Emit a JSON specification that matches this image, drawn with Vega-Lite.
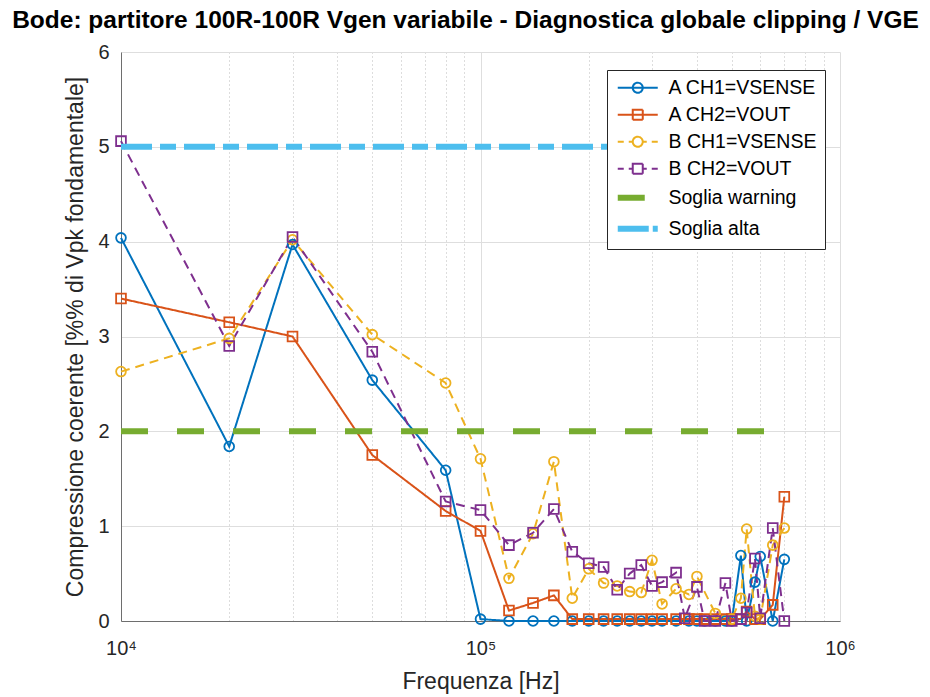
{
  "$schema": "https://vega.github.io/schema/vega-lite/v6.json",
  "width": 719,
  "height": 569,
  "autosize": {"type": "none"},
  "padding": {"left": 121, "top": 52, "right": 90, "bottom": 76},
  "background": "white",
  "title": {
    "text": "Bode: partitore 100R-100R Vgen variabile - Diagnostica globale clipping / VGE",
    "font": "Liberation Sans",
    "fontSize": 24.5,
    "fontWeight": "bold",
    "color": "#000000",
    "anchor": "middle",
    "frame": "group",
    "dx": -15,
    "offset": 9
  },
  "data": {
    "values": [
      {"s": "A CH1=VSENSE", "f": 10000, "v": 4.04},
      {"s": "A CH1=VSENSE", "f": 20000, "v": 1.84},
      {"s": "A CH1=VSENSE", "f": 30000, "v": 3.97},
      {"s": "A CH1=VSENSE", "f": 50000, "v": 2.54},
      {"s": "A CH1=VSENSE", "f": 80000, "v": 1.59},
      {"s": "A CH1=VSENSE", "f": 100000, "v": 0.02},
      {"s": "A CH1=VSENSE", "f": 120000, "v": 0},
      {"s": "A CH1=VSENSE", "f": 140000, "v": 0},
      {"s": "A CH1=VSENSE", "f": 160000, "v": 0},
      {"s": "A CH1=VSENSE", "f": 180000, "v": 0},
      {"s": "A CH1=VSENSE", "f": 200000, "v": 0},
      {"s": "A CH1=VSENSE", "f": 220000, "v": 0},
      {"s": "A CH1=VSENSE", "f": 240000, "v": 0},
      {"s": "A CH1=VSENSE", "f": 260000, "v": 0},
      {"s": "A CH1=VSENSE", "f": 280000, "v": 0},
      {"s": "A CH1=VSENSE", "f": 300000, "v": 0},
      {"s": "A CH1=VSENSE", "f": 320000, "v": 0},
      {"s": "A CH1=VSENSE", "f": 350000, "v": 0},
      {"s": "A CH1=VSENSE", "f": 380000, "v": 0},
      {"s": "A CH1=VSENSE", "f": 400000, "v": 0},
      {"s": "A CH1=VSENSE", "f": 420000, "v": 0},
      {"s": "A CH1=VSENSE", "f": 450000, "v": 0},
      {"s": "A CH1=VSENSE", "f": 480000, "v": 0},
      {"s": "A CH1=VSENSE", "f": 500000, "v": 0},
      {"s": "A CH1=VSENSE", "f": 530000, "v": 0.69},
      {"s": "A CH1=VSENSE", "f": 550000, "v": 0},
      {"s": "A CH1=VSENSE", "f": 580000, "v": 0.41},
      {"s": "A CH1=VSENSE", "f": 600000, "v": 0.68},
      {"s": "A CH1=VSENSE", "f": 650000, "v": 0},
      {"s": "A CH1=VSENSE", "f": 700000, "v": 0.65},

      {"s": "A CH2=VOUT", "f": 10000, "v": 3.40},
      {"s": "A CH2=VOUT", "f": 20000, "v": 3.15},
      {"s": "A CH2=VOUT", "f": 30000, "v": 3.00},
      {"s": "A CH2=VOUT", "f": 50000, "v": 1.75},
      {"s": "A CH2=VOUT", "f": 80000, "v": 1.16},
      {"s": "A CH2=VOUT", "f": 100000, "v": 0.95},
      {"s": "A CH2=VOUT", "f": 120000, "v": 0.11},
      {"s": "A CH2=VOUT", "f": 140000, "v": 0.19},
      {"s": "A CH2=VOUT", "f": 160000, "v": 0.27},
      {"s": "A CH2=VOUT", "f": 180000, "v": 0.02},
      {"s": "A CH2=VOUT", "f": 200000, "v": 0.02},
      {"s": "A CH2=VOUT", "f": 220000, "v": 0.02},
      {"s": "A CH2=VOUT", "f": 240000, "v": 0.02},
      {"s": "A CH2=VOUT", "f": 260000, "v": 0.02},
      {"s": "A CH2=VOUT", "f": 280000, "v": 0.02},
      {"s": "A CH2=VOUT", "f": 300000, "v": 0.02},
      {"s": "A CH2=VOUT", "f": 320000, "v": 0.02},
      {"s": "A CH2=VOUT", "f": 350000, "v": 0.02},
      {"s": "A CH2=VOUT", "f": 380000, "v": 0.02},
      {"s": "A CH2=VOUT", "f": 400000, "v": 0.02},
      {"s": "A CH2=VOUT", "f": 420000, "v": 0.02},
      {"s": "A CH2=VOUT", "f": 450000, "v": 0.02},
      {"s": "A CH2=VOUT", "f": 480000, "v": 0.02},
      {"s": "A CH2=VOUT", "f": 500000, "v": 0.02},
      {"s": "A CH2=VOUT", "f": 530000, "v": 0.02},
      {"s": "A CH2=VOUT", "f": 550000, "v": 0.10},
      {"s": "A CH2=VOUT", "f": 580000, "v": 0.02},
      {"s": "A CH2=VOUT", "f": 600000, "v": 0.02},
      {"s": "A CH2=VOUT", "f": 650000, "v": 0.17},
      {"s": "A CH2=VOUT", "f": 700000, "v": 1.31},

      {"s": "B CH1=VSENSE", "f": 10000, "v": 2.63},
      {"s": "B CH1=VSENSE", "f": 20000, "v": 2.98},
      {"s": "B CH1=VSENSE", "f": 30000, "v": 4.02},
      {"s": "B CH1=VSENSE", "f": 50000, "v": 3.02},
      {"s": "B CH1=VSENSE", "f": 80000, "v": 2.51},
      {"s": "B CH1=VSENSE", "f": 100000, "v": 1.71},
      {"s": "B CH1=VSENSE", "f": 120000, "v": 0.45},
      {"s": "B CH1=VSENSE", "f": 140000, "v": 0.92},
      {"s": "B CH1=VSENSE", "f": 160000, "v": 1.68},
      {"s": "B CH1=VSENSE", "f": 180000, "v": 0.24},
      {"s": "B CH1=VSENSE", "f": 200000, "v": 0.55},
      {"s": "B CH1=VSENSE", "f": 220000, "v": 0.40},
      {"s": "B CH1=VSENSE", "f": 240000, "v": 0.37},
      {"s": "B CH1=VSENSE", "f": 260000, "v": 0.31},
      {"s": "B CH1=VSENSE", "f": 280000, "v": 0.30},
      {"s": "B CH1=VSENSE", "f": 300000, "v": 0.64},
      {"s": "B CH1=VSENSE", "f": 320000, "v": 0.18},
      {"s": "B CH1=VSENSE", "f": 350000, "v": 0.34},
      {"s": "B CH1=VSENSE", "f": 380000, "v": 0.28},
      {"s": "B CH1=VSENSE", "f": 400000, "v": 0.47},
      {"s": "B CH1=VSENSE", "f": 450000, "v": 0.08},
      {"s": "B CH1=VSENSE", "f": 500000, "v": 0.02},
      {"s": "B CH1=VSENSE", "f": 530000, "v": 0.24},
      {"s": "B CH1=VSENSE", "f": 550000, "v": 0.97},
      {"s": "B CH1=VSENSE", "f": 580000, "v": 0.05},
      {"s": "B CH1=VSENSE", "f": 600000, "v": 0.02},
      {"s": "B CH1=VSENSE", "f": 650000, "v": 0.80},
      {"s": "B CH1=VSENSE", "f": 700000, "v": 0.98},

      {"s": "B CH2=VOUT", "f": 10000, "v": 5.06},
      {"s": "B CH2=VOUT", "f": 20000, "v": 2.90},
      {"s": "B CH2=VOUT", "f": 30000, "v": 4.05},
      {"s": "B CH2=VOUT", "f": 50000, "v": 2.84},
      {"s": "B CH2=VOUT", "f": 80000, "v": 1.26},
      {"s": "B CH2=VOUT", "f": 100000, "v": 1.17},
      {"s": "B CH2=VOUT", "f": 120000, "v": 0.80},
      {"s": "B CH2=VOUT", "f": 140000, "v": 0.93},
      {"s": "B CH2=VOUT", "f": 160000, "v": 1.18},
      {"s": "B CH2=VOUT", "f": 180000, "v": 0.73},
      {"s": "B CH2=VOUT", "f": 200000, "v": 0.61},
      {"s": "B CH2=VOUT", "f": 220000, "v": 0.57},
      {"s": "B CH2=VOUT", "f": 240000, "v": 0.33},
      {"s": "B CH2=VOUT", "f": 260000, "v": 0.50},
      {"s": "B CH2=VOUT", "f": 280000, "v": 0.59},
      {"s": "B CH2=VOUT", "f": 300000, "v": 0.37},
      {"s": "B CH2=VOUT", "f": 320000, "v": 0.41},
      {"s": "B CH2=VOUT", "f": 350000, "v": 0.51},
      {"s": "B CH2=VOUT", "f": 370000, "v": 0.03},
      {"s": "B CH2=VOUT", "f": 400000, "v": 0.36},
      {"s": "B CH2=VOUT", "f": 420000, "v": 0},
      {"s": "B CH2=VOUT", "f": 450000, "v": 0},
      {"s": "B CH2=VOUT", "f": 480000, "v": 0.40},
      {"s": "B CH2=VOUT", "f": 500000, "v": 0},
      {"s": "B CH2=VOUT", "f": 530000, "v": 0.02},
      {"s": "B CH2=VOUT", "f": 550000, "v": 0.09},
      {"s": "B CH2=VOUT", "f": 580000, "v": 0.66},
      {"s": "B CH2=VOUT", "f": 600000, "v": 0.03},
      {"s": "B CH2=VOUT", "f": 650000, "v": 0.98},
      {"s": "B CH2=VOUT", "f": 700000, "v": 0},

      {"s": "Soglia warning", "f": 10000, "v": 2},
      {"s": "Soglia warning", "f": 700000, "v": 2},
      {"s": "Soglia alta", "f": 10000, "v": 5},
      {"s": "Soglia alta", "f": 700000, "v": 5}
    ]
  },
  "encoding": {
    "x": {
      "field": "f",
      "type": "quantitative",
      "title": "Frequenza [Hz]",
      "scale": {"type": "log", "domain": [10000, 1000000], "nice": false},
      "axis": {
        "values": [10000, 20000, 30000, 40000, 50000, 60000, 70000, 80000, 90000, 100000, 200000, 300000, 400000, 500000, 600000, 700000, 800000, 900000, 1000000],
        "labelExpr": "datum.value == 10000 ? '10⁴' : datum.value == 100000 ? '10⁵' : datum.value == 1000000 ? '10⁶' : ''",
        "labelFlush": false,
        "labelOverlap": false,
        "labelBound": false,
        "labelPadding": 17,
        "titlePadding": 12,
        "ticks": false,
        "gridDash": {"condition": {"test": "indexof([10000, 100000, 1000000], datum.value) < 0", "value": [1, 3]}, "value": []},
        "gridColor": {"condition": {"test": "indexof([10000, 100000, 1000000], datum.value) < 0", "value": "#BBBBBB"}, "value": "#DEDEDE"}
      }
    },
    "y": {
      "field": "v",
      "type": "quantitative",
      "title": "Compressione coerente [%% di Vpk fondamentale]",
      "scale": {"domain": [0, 6], "nice": false, "zero": false},
      "axis": {
        "values": [0, 1, 2, 3, 4, 5, 6],
        "labelPadding": 12,
        "titlePadding": 10,
        "ticks": false,
        "gridColor": "#DEDEDE"
      }
    }
  },
  "layer": [
    {
      "transform": [{"filter": "indexof(['A CH1=VSENSE', 'A CH2=VOUT', 'B CH1=VSENSE', 'B CH2=VOUT'], datum.s) >= 0"}],
      "mark": {"type": "line", "strokeWidth": 2},
      "encoding": {
        "color": {
          "field": "s",
          "type": "nominal",
          "scale": {
            "domain": ["A CH1=VSENSE", "A CH2=VOUT", "B CH1=VSENSE", "B CH2=VOUT", "Soglia warning", "Soglia alta"],
            "range": ["#0072BD", "#D95319", "#EDB120", "#7E2F8E", "#77AC30", "#4DBEEE"]
          },
          "legend": {
            "title": null,
            "orient": "none",
            "legendX": 486,
            "legendY": 18,
            "padding": 8,
            "rowPadding": 6,
            "symbolOffset": 13,
            "labelOffset": 21,
            "symbolSize": 400,
            "labelFont": "Liberation Sans",
            "labelFontSize": 19.5,
            "labelColor": "#000000",
            "labelLimit": 300,
            "fillColor": "#FFFFFF",
            "strokeColor": "#262626",
            "cornerRadius": 0,
            "encode": {
              "symbols": {
                "update": {
                  "shape": {"signal": "datum.value == 'A CH1=VSENSE' ? 'M-2,0H2M0.5,0A0.5,0.5,0,1,1,-0.5,0A0.5,0.5,0,1,1,0.5,0' : datum.value == 'A CH2=VOUT' ? 'M-2,0H2M-0.5,-0.5H0.5V0.5H-0.5Z' : datum.value == 'B CH1=VSENSE' ? 'M-2,0H-1.4M-0.9,0H-0.5M0.5,0H0.9M1.4,0H2M0.5,0A0.5,0.5,0,1,1,-0.5,0A0.5,0.5,0,1,1,0.5,0' : datum.value == 'B CH2=VOUT' ? 'M-2,0H-1.4M-0.9,0H-0.5M0.5,0H0.9M1.4,0H2M-0.5,-0.5H0.5V0.5H-0.5Z' : datum.value == 'Soglia warning' ? 'M-2,0H0.7' : 'M-2,0H1.1M1.5,0H2'"},
                  "size": {"value": 400},
                  "strokeWidth": {"signal": "datum.value == 'Soglia warning' || datum.value == 'Soglia alta' ? 6 : 2"},
                  "fill": {"value": "transparent"},
                  "strokeDash": {"value": [1, 0]},
                  "stroke": {"scale": "color", "field": "value"},
                  "opacity": {"value": 1}
                }
              }
            }
          }
        },
        "strokeDash": {
          "field": "s",
          "type": "nominal",
          "scale": {
            "domain": ["A CH1=VSENSE", "A CH2=VOUT", "B CH1=VSENSE", "B CH2=VOUT"],
            "range": [[1, 0], [1, 0], [9, 6], [9, 6]]
          },
          "legend": null
        }
      }
    },
    {
      "transform": [{"filter": "indexof(['A CH1=VSENSE', 'A CH2=VOUT', 'B CH1=VSENSE', 'B CH2=VOUT'], datum.s) >= 0"}],
      "mark": {"type": "point", "filled": false, "strokeWidth": 1.8, "size": 95, "opacity": 1},
      "encoding": {
        "color": {"field": "s", "type": "nominal"},
        "shape": {
          "field": "s",
          "type": "nominal",
          "scale": {
            "domain": ["A CH1=VSENSE", "A CH2=VOUT", "B CH1=VSENSE", "B CH2=VOUT"],
            "range": ["circle", "square", "circle", "square"]
          },
          "legend": null
        }
      }
    },
    {
      "transform": [{"filter": "datum.s == 'Soglia warning'"}],
      "mark": {"type": "line", "strokeWidth": 6, "strokeDash": [27, 29]},
      "encoding": {"color": {"field": "s", "type": "nominal"}}
    },
    {
      "transform": [{"filter": "datum.s == 'Soglia alta'"}],
      "mark": {"type": "line", "strokeWidth": 6, "strokeDash": [31, 8, 16, 8]},
      "encoding": {"color": {"field": "s", "type": "nominal"}}
    }
  ],
  "config": {
    "view": {"stroke": null},
    "font": "Liberation Sans",
    "axis": {
      "labelFont": "Liberation Sans",
      "labelFontSize": 20,
      "labelColor": "#262626",
      "titleFont": "Liberation Sans",
      "titleFontSize": 23,
      "titleFontWeight": "normal",
      "titleColor": "#262626",
      "domainColor": "#6E6E6E",
      "domainWidth": 1,
      "gridWidth": 1
    }
  }
}
